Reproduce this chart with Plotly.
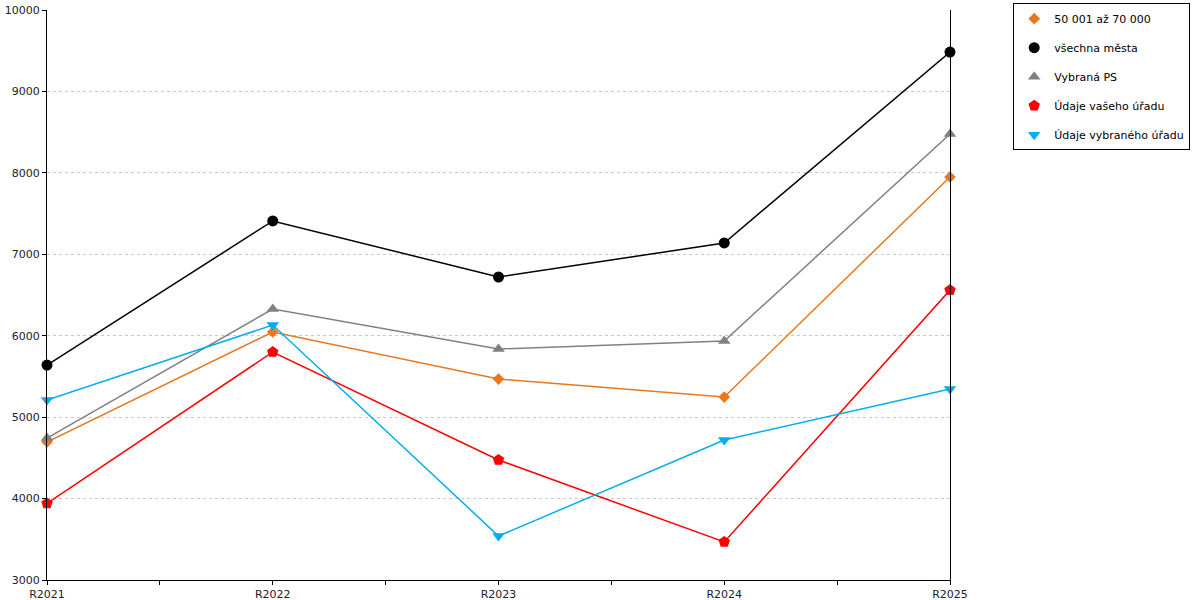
import plotly.graph_objects as go

years = ['R2021', 'R2022', 'R2023', 'R2024', 'R2025']

series_names = ['50 001 až 70 000', 'všechna města', 'Vybraná PS',
                'Údaje vašeho úřadu', 'Údaje vybraného úřadu']
orange_vals = [4695, 6046, 5468, 5247, 7949]
black_vals = [5640, 7409, 6721, 7139, 9484]
gray_vals = [4744, 6328, 5837, 5935, 8477]
red_vals = [3940, 5800, 4474, 3467, 6561]
blue_vals = [5210, 6131, 3540, 4719, 5346]

y_ticks = [3000, 4000, 5000, 6000, 7000, 8000, 9000, 10000]

styles = [
    ('#e8771e', 'diamond', 9),
    ('#000000', 'circle', 11),
    ('#808080', 'triangle-up', 11),
    ('#ff0000', 'pentagon', 12),
    ('#00aeef', 'triangle-down', 11),
]

x_idx = list(range(len(years)))

fig = go.Figure()
for name, vals, (color, symbol, size) in zip(
        series_names,
        [orange_vals, black_vals, gray_vals, red_vals, blue_vals],
        styles):
    fig.add_trace(go.Scatter(
        x=x_idx, y=vals, name=name, mode='lines+markers',
        line=dict(color=color, width=1.5),
        marker=dict(color=color, symbol=symbol, size=size),
        cliponaxis=False,
        showlegend=False,
    ))
    # legend entry with marker only, like the original
    fig.add_trace(go.Scatter(
        x=[None], y=[None], name=name, mode='markers',
        marker=dict(color=color, symbol=symbol, size=size),
        legendgroup=name,
    ))

fig.update_layout(
    width=1200, height=600,
    margin=dict(l=47, r=250, t=3, b=20),
    plot_bgcolor='white',
    paper_bgcolor='white',
    font=dict(family='DejaVu Sans', size=11, color='#222222'),
    legend=dict(
        x=1.266, y=1.012, xanchor='right', yanchor='top',
        bordercolor='black', borderwidth=1, bgcolor='white',
        font=dict(size=11, color='black'),
        tracegroupgap=10,
        traceorder='grouped',
        itemwidth=30,
    ),
    xaxis=dict(
        range=[0, 4],
        tickmode='array', tickvals=x_idx, ticktext=years,
        showline=True, linecolor='black', linewidth=1,
        ticks='outside', ticklen=4, tickcolor='black',
        minor=dict(dtick=0.5, tick0=0, ticks='outside', ticklen=4, tickcolor='black', showgrid=False),
        showgrid=False, zeroline=False, automargin=False,
    ),
    yaxis=dict(
        range=[3000, 10000],
        tickmode='array', tickvals=y_ticks, ticktext=[str(v) for v in y_ticks],
        showline=True, linecolor='black', linewidth=1, mirror=True,
        ticks='outside', ticklen=4, tickcolor='black',
        showgrid=True, gridcolor='#c8c8c8', griddash='dot', gridwidth=1,
        zeroline=False, automargin=False,
    ),
)

# the page body has an 8px default margin; remove it so the figure sits at 0,0
fig.write_html('out.html', config={'displayModeBar': False},
               post_script="document.body.style.margin='0';")
